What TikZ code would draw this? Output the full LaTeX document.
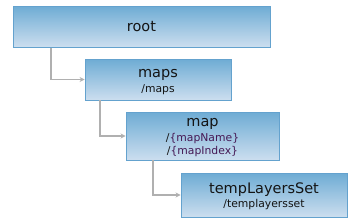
\documentclass[tikz,border=0pt]{standalone}
\usepackage{fontspec}
\setmainfont{DejaVu Sans}
\usetikzlibrary{arrows.meta}
\definecolor{topc}{RGB}{110,172,212}
\definecolor{botc}{RGB}{204,222,239}
\definecolor{edgec}{RGB}{100,162,206}
\definecolor{linec}{RGB}{176,176,176}
\definecolor{txt}{RGB}{20,20,20}
\definecolor{purp}{RGB}{70,25,85}
\tikzset{
  box/.style={draw=edgec, line width=0.9pt, top color=topc, bottom color=botc, inner sep=0pt},
  ttl/.style={text=txt, font=\fontsize{14.5}{16}\selectfont, inner sep=0pt},
  sub/.style={text=txt, font=\fontsize{10.8}{12}\selectfont, inner sep=0pt},
  conn/.style={draw=linec, line width=1.5pt, -{Stealth[length=5pt,width=5pt]}}
}
\begin{document}
\begin{tikzpicture}[x=1pt,y=-1pt]
\useasboundingbox (0,0) rectangle (363,220);
% boxes
\node[box, minimum width=257pt, minimum height=41pt] (root) at (141.5,26.5) {};
\node[box, minimum width=146pt, minimum height=41pt] (maps) at (158,79.5) {};
\node[box, minimum width=153pt, minimum height=48pt] (map) at (202.5,136) {};
\node[box, minimum width=166pt, minimum height=44pt] (tls) at (264,195) {};
% texts
\node[ttl] (t1) at (141.5,26.5) {root};
\node[ttl] (t2) at (158,75) {maps};
\node[sub] (s2) at (158,89.5) {/maps};
\node[ttl] (t3) at (202.5,124) {map};
\node[sub] (s3a) at (202.5,139) {/\textcolor{purp}{\{mapName\}}};
\node[sub] (s3b) at (202.5,152) {/\textcolor{purp}{\{mapIndex\}}};
\node[ttl] (t4) at (264,189.5) {tempLayersSet};
\node[sub] (s4) at (264,205) {/templayersset};
% connectors
\coordinate (c1) at (51,47.5);
\coordinate (c2) at (100,100);
\coordinate (c3) at (153,160);
\draw[conn] (c1) |- (maps.west);
\draw[conn] (c2) |- (map.west);
\draw[conn] (c3) |- (tls.west);
\end{tikzpicture}
\end{document}
